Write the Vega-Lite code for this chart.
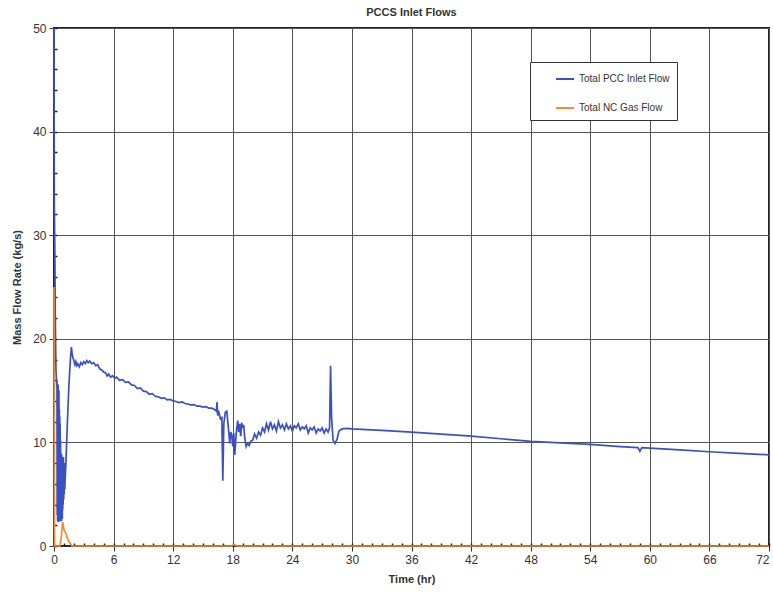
{
  "$schema": "https://vega.github.io/schema/vega-lite/v6.json",
  "width": 715,
  "height": 518,
  "autosize": "none",
  "padding": {"left": 54, "top": 28, "right": 4, "bottom": 47},
  "title": {"text": "PCCS Inlet Flows", "fontSize": 11, "fontWeight": "bold", "color": "#333333", "offset": 4, "anchor": "middle"},
  "config": {
    "font": "Liberation Sans",
    "view": {"stroke": "#222222", "strokeWidth": 2},
    "axis": {"labelFontSize": 12, "labelColor": "#333333", "titleFontSize": 11, "titleFontWeight": "bold", "titleColor": "#333333", "domainColor": "#333333", "tickColor": "#333333", "gridColor": "#555555", "gridWidth": 1, "gridOpacity": 1}
  },
  "data": {"values": [
    {"t":0,"v":50,"s":"Total PCC Inlet Flow"},{"t":0.03,"v":33,"s":"Total PCC Inlet Flow"},{"t":0.08,"v":29,"s":"Total PCC Inlet Flow"},{"t":0.13,"v":22,"s":"Total PCC Inlet Flow"},{"t":0.2,"v":17,"s":"Total PCC Inlet Flow"},{"t":0.27,"v":15.5,"s":"Total PCC Inlet Flow"},
    {"t":0.3,"v":16,"s":"Total PCC Inlet Flow"},{"t":0.32,"v":3,"s":"Total PCC Inlet Flow"},{"t":0.34,"v":15.2,"s":"Total PCC Inlet Flow"},{"t":0.36,"v":2.4,"s":"Total PCC Inlet Flow"},{"t":0.38,"v":14.8,"s":"Total PCC Inlet Flow"},{"t":0.4,"v":3.5,"s":"Total PCC Inlet Flow"},{"t":0.42,"v":15.6,"s":"Total PCC Inlet Flow"},{"t":0.44,"v":2.3,"s":"Total PCC Inlet Flow"},{"t":0.46,"v":14,"s":"Total PCC Inlet Flow"},{"t":0.48,"v":2.8,"s":"Total PCC Inlet Flow"},{"t":0.5,"v":15,"s":"Total PCC Inlet Flow"},{"t":0.52,"v":2.4,"s":"Total PCC Inlet Flow"},{"t":0.54,"v":13.2,"s":"Total PCC Inlet Flow"},{"t":0.56,"v":2.6,"s":"Total PCC Inlet Flow"},{"t":0.58,"v":12.5,"s":"Total PCC Inlet Flow"},{"t":0.6,"v":3,"s":"Total PCC Inlet Flow"},{"t":0.62,"v":11.8,"s":"Total PCC Inlet Flow"},{"t":0.64,"v":2.4,"s":"Total PCC Inlet Flow"},{"t":0.66,"v":10.2,"s":"Total PCC Inlet Flow"},{"t":0.68,"v":2.5,"s":"Total PCC Inlet Flow"},{"t":0.7,"v":9,"s":"Total PCC Inlet Flow"},{"t":0.72,"v":3.2,"s":"Total PCC Inlet Flow"},{"t":0.74,"v":8.6,"s":"Total PCC Inlet Flow"},{"t":0.76,"v":2.4,"s":"Total PCC Inlet Flow"},{"t":0.78,"v":8.8,"s":"Total PCC Inlet Flow"},{"t":0.8,"v":3,"s":"Total PCC Inlet Flow"},{"t":0.82,"v":8.2,"s":"Total PCC Inlet Flow"},{"t":0.84,"v":2.6,"s":"Total PCC Inlet Flow"},{"t":0.86,"v":8.5,"s":"Total PCC Inlet Flow"},{"t":0.88,"v":3.5,"s":"Total PCC Inlet Flow"},{"t":0.9,"v":7.8,"s":"Total PCC Inlet Flow"},{"t":0.92,"v":4,"s":"Total PCC Inlet Flow"},{"t":0.95,"v":8.6,"s":"Total PCC Inlet Flow"},{"t":0.98,"v":4.5,"s":"Total PCC Inlet Flow"},{"t":1.0,"v":7.5,"s":"Total PCC Inlet Flow"},{"t":1.03,"v":5,"s":"Total PCC Inlet Flow"},{"t":1.06,"v":8,"s":"Total PCC Inlet Flow"},{"t":1.09,"v":5.5,"s":"Total PCC Inlet Flow"},{"t":1.12,"v":6.5,"s":"Total PCC Inlet Flow"},
    {"t":1.2,"v":8,"s":"Total PCC Inlet Flow"},{"t":1.35,"v":12,"s":"Total PCC Inlet Flow"},{"t":1.5,"v":15.5,"s":"Total PCC Inlet Flow"},{"t":1.65,"v":18,"s":"Total PCC Inlet Flow"},{"t":1.75,"v":19.2,"s":"Total PCC Inlet Flow"},{"t":1.82,"v":18.6,"s":"Total PCC Inlet Flow"},{"t":1.9,"v":18.2,"s":"Total PCC Inlet Flow"},{"t":2.0,"v":17.9,"s":"Total PCC Inlet Flow"},{"t":2.1,"v":17.5,"s":"Total PCC Inlet Flow"},{"t":2.2,"v":17.8,"s":"Total PCC Inlet Flow"},{"t":2.3,"v":17.4,"s":"Total PCC Inlet Flow"},{"t":2.4,"v":17.6,"s":"Total PCC Inlet Flow"},{"t":2.55,"v":17.3,"s":"Total PCC Inlet Flow"},{"t":2.7,"v":17.7,"s":"Total PCC Inlet Flow"},{"t":2.85,"v":17.5,"s":"Total PCC Inlet Flow"},{"t":3.0,"v":17.8,"s":"Total PCC Inlet Flow"},{"t":3.15,"v":17.6,"s":"Total PCC Inlet Flow"},{"t":3.3,"v":17.9,"s":"Total PCC Inlet Flow"},{"t":3.45,"v":17.7,"s":"Total PCC Inlet Flow"},{"t":3.6,"v":17.85,"s":"Total PCC Inlet Flow"},{"t":3.8,"v":17.6,"s":"Total PCC Inlet Flow"},{"t":4.0,"v":17.7,"s":"Total PCC Inlet Flow"},{"t":4.2,"v":17.4,"s":"Total PCC Inlet Flow"},{"t":4.4,"v":17.5,"s":"Total PCC Inlet Flow"},{"t":4.6,"v":17.1,"s":"Total PCC Inlet Flow"},{"t":4.8,"v":17.0,"s":"Total PCC Inlet Flow"},{"t":5.0,"v":16.8,"s":"Total PCC Inlet Flow"},{"t":5.2,"v":16.7,"s":"Total PCC Inlet Flow"},{"t":5.35,"v":16.4,"s":"Total PCC Inlet Flow"},{"t":5.5,"v":16.6,"s":"Total PCC Inlet Flow"},{"t":5.7,"v":16.3,"s":"Total PCC Inlet Flow"},{"t":5.9,"v":16.45,"s":"Total PCC Inlet Flow"},{"t":6.1,"v":16.2,"s":"Total PCC Inlet Flow"},{"t":6.3,"v":16.3,"s":"Total PCC Inlet Flow"},{"t":6.6,"v":16.0,"s":"Total PCC Inlet Flow"},{"t":6.9,"v":16.05,"s":"Total PCC Inlet Flow"},{"t":7.2,"v":15.8,"s":"Total PCC Inlet Flow"},{"t":7.5,"v":15.85,"s":"Total PCC Inlet Flow"},{"t":7.8,"v":15.55,"s":"Total PCC Inlet Flow"},{"t":8.1,"v":15.5,"s":"Total PCC Inlet Flow"},{"t":8.4,"v":15.2,"s":"Total PCC Inlet Flow"},{"t":8.7,"v":15.25,"s":"Total PCC Inlet Flow"},{"t":9.0,"v":14.95,"s":"Total PCC Inlet Flow"},{"t":9.3,"v":14.9,"s":"Total PCC Inlet Flow"},{"t":9.6,"v":14.65,"s":"Total PCC Inlet Flow"},{"t":9.9,"v":14.7,"s":"Total PCC Inlet Flow"},{"t":10.2,"v":14.45,"s":"Total PCC Inlet Flow"},{"t":10.5,"v":14.4,"s":"Total PCC Inlet Flow"},{"t":10.8,"v":14.25,"s":"Total PCC Inlet Flow"},{"t":11.1,"v":14.3,"s":"Total PCC Inlet Flow"},{"t":11.4,"v":14.1,"s":"Total PCC Inlet Flow"},{"t":11.7,"v":14.15,"s":"Total PCC Inlet Flow"},{"t":12.0,"v":14.0,"s":"Total PCC Inlet Flow"},{"t":12.3,"v":13.95,"s":"Total PCC Inlet Flow"},{"t":12.6,"v":13.85,"s":"Total PCC Inlet Flow"},{"t":12.9,"v":13.9,"s":"Total PCC Inlet Flow"},{"t":13.2,"v":13.75,"s":"Total PCC Inlet Flow"},{"t":13.5,"v":13.7,"s":"Total PCC Inlet Flow"},{"t":13.8,"v":13.6,"s":"Total PCC Inlet Flow"},{"t":14.1,"v":13.65,"s":"Total PCC Inlet Flow"},{"t":14.4,"v":13.5,"s":"Total PCC Inlet Flow"},{"t":14.7,"v":13.5,"s":"Total PCC Inlet Flow"},{"t":15.0,"v":13.4,"s":"Total PCC Inlet Flow"},{"t":15.3,"v":13.45,"s":"Total PCC Inlet Flow"},{"t":15.6,"v":13.3,"s":"Total PCC Inlet Flow"},{"t":15.9,"v":13.3,"s":"Total PCC Inlet Flow"},{"t":16.2,"v":13.15,"s":"Total PCC Inlet Flow"},{"t":16.35,"v":13.0,"s":"Total PCC Inlet Flow"},{"t":16.42,"v":13.9,"s":"Total PCC Inlet Flow"},{"t":16.48,"v":12.6,"s":"Total PCC Inlet Flow"},{"t":16.6,"v":12.9,"s":"Total PCC Inlet Flow"},{"t":16.75,"v":12.3,"s":"Total PCC Inlet Flow"},{"t":16.9,"v":12.4,"s":"Total PCC Inlet Flow"},{"t":17.0,"v":6.3,"s":"Total PCC Inlet Flow"},{"t":17.1,"v":11.8,"s":"Total PCC Inlet Flow"},{"t":17.25,"v":12.9,"s":"Total PCC Inlet Flow"},{"t":17.4,"v":13.0,"s":"Total PCC Inlet Flow"},{"t":17.55,"v":11.5,"s":"Total PCC Inlet Flow"},{"t":17.7,"v":9.9,"s":"Total PCC Inlet Flow"},{"t":17.8,"v":11.0,"s":"Total PCC Inlet Flow"},{"t":17.9,"v":10.7,"s":"Total PCC Inlet Flow"},{"t":18.0,"v":9.6,"s":"Total PCC Inlet Flow"},{"t":18.1,"v":10.9,"s":"Total PCC Inlet Flow"},{"t":18.2,"v":8.8,"s":"Total PCC Inlet Flow"},{"t":18.35,"v":10.9,"s":"Total PCC Inlet Flow"},{"t":18.5,"v":12.1,"s":"Total PCC Inlet Flow"},{"t":18.6,"v":11.0,"s":"Total PCC Inlet Flow"},{"t":18.7,"v":11.8,"s":"Total PCC Inlet Flow"},{"t":18.8,"v":10.6,"s":"Total PCC Inlet Flow"},{"t":18.9,"v":11.9,"s":"Total PCC Inlet Flow"},{"t":19.0,"v":11.4,"s":"Total PCC Inlet Flow"},{"t":19.1,"v":11.7,"s":"Total PCC Inlet Flow"},{"t":19.2,"v":10.5,"s":"Total PCC Inlet Flow"},{"t":19.35,"v":9.6,"s":"Total PCC Inlet Flow"},{"t":19.5,"v":9.9,"s":"Total PCC Inlet Flow"},{"t":19.65,"v":9.7,"s":"Total PCC Inlet Flow"},{"t":19.8,"v":10.1,"s":"Total PCC Inlet Flow"},{"t":20.0,"v":10.2,"s":"Total PCC Inlet Flow"},{"t":20.2,"v":10.8,"s":"Total PCC Inlet Flow"},{"t":20.4,"v":10.4,"s":"Total PCC Inlet Flow"},{"t":20.6,"v":11.0,"s":"Total PCC Inlet Flow"},{"t":20.8,"v":10.7,"s":"Total PCC Inlet Flow"},{"t":21.0,"v":11.4,"s":"Total PCC Inlet Flow"},{"t":21.2,"v":11.0,"s":"Total PCC Inlet Flow"},{"t":21.4,"v":11.8,"s":"Total PCC Inlet Flow"},{"t":21.6,"v":11.2,"s":"Total PCC Inlet Flow"},{"t":21.8,"v":12.0,"s":"Total PCC Inlet Flow"},{"t":22.0,"v":11.3,"s":"Total PCC Inlet Flow"},{"t":22.2,"v":11.7,"s":"Total PCC Inlet Flow"},{"t":22.4,"v":11.1,"s":"Total PCC Inlet Flow"},{"t":22.6,"v":12.0,"s":"Total PCC Inlet Flow"},{"t":22.8,"v":11.4,"s":"Total PCC Inlet Flow"},{"t":23.0,"v":11.7,"s":"Total PCC Inlet Flow"},{"t":23.2,"v":11.2,"s":"Total PCC Inlet Flow"},{"t":23.4,"v":11.8,"s":"Total PCC Inlet Flow"},{"t":23.6,"v":11.3,"s":"Total PCC Inlet Flow"},{"t":23.8,"v":11.6,"s":"Total PCC Inlet Flow"},{"t":24.0,"v":11.1,"s":"Total PCC Inlet Flow"},{"t":24.2,"v":11.6,"s":"Total PCC Inlet Flow"},{"t":24.4,"v":11.4,"s":"Total PCC Inlet Flow"},{"t":24.6,"v":11.8,"s":"Total PCC Inlet Flow"},{"t":24.8,"v":11.2,"s":"Total PCC Inlet Flow"},{"t":25.0,"v":11.5,"s":"Total PCC Inlet Flow"},{"t":25.2,"v":11.3,"s":"Total PCC Inlet Flow"},{"t":25.4,"v":11.6,"s":"Total PCC Inlet Flow"},{"t":25.6,"v":10.9,"s":"Total PCC Inlet Flow"},{"t":25.8,"v":11.4,"s":"Total PCC Inlet Flow"},{"t":26.0,"v":11.2,"s":"Total PCC Inlet Flow"},{"t":26.2,"v":11.5,"s":"Total PCC Inlet Flow"},{"t":26.4,"v":10.9,"s":"Total PCC Inlet Flow"},{"t":26.6,"v":11.3,"s":"Total PCC Inlet Flow"},{"t":26.8,"v":11.1,"s":"Total PCC Inlet Flow"},{"t":27.0,"v":11.4,"s":"Total PCC Inlet Flow"},{"t":27.2,"v":10.9,"s":"Total PCC Inlet Flow"},{"t":27.4,"v":11.3,"s":"Total PCC Inlet Flow"},{"t":27.6,"v":11.0,"s":"Total PCC Inlet Flow"},{"t":27.75,"v":11.4,"s":"Total PCC Inlet Flow"},{"t":27.85,"v":17.4,"s":"Total PCC Inlet Flow"},{"t":27.95,"v":12.5,"s":"Total PCC Inlet Flow"},{"t":28.1,"v":10.2,"s":"Total PCC Inlet Flow"},{"t":28.3,"v":9.9,"s":"Total PCC Inlet Flow"},{"t":28.5,"v":10.3,"s":"Total PCC Inlet Flow"},{"t":28.7,"v":11.1,"s":"Total PCC Inlet Flow"},{"t":29.0,"v":11.3,"s":"Total PCC Inlet Flow"},{"t":29.5,"v":11.35,"s":"Total PCC Inlet Flow"},{"t":30,"v":11.3,"s":"Total PCC Inlet Flow"},{"t":33,"v":11.17,"s":"Total PCC Inlet Flow"},{"t":36,"v":11.0,"s":"Total PCC Inlet Flow"},{"t":39,"v":10.8,"s":"Total PCC Inlet Flow"},{"t":42,"v":10.6,"s":"Total PCC Inlet Flow"},{"t":45,"v":10.35,"s":"Total PCC Inlet Flow"},{"t":48,"v":10.1,"s":"Total PCC Inlet Flow"},{"t":51,"v":9.95,"s":"Total PCC Inlet Flow"},{"t":54,"v":9.8,"s":"Total PCC Inlet Flow"},{"t":57,"v":9.6,"s":"Total PCC Inlet Flow"},{"t":58.8,"v":9.5,"s":"Total PCC Inlet Flow"},{"t":59.0,"v":9.15,"s":"Total PCC Inlet Flow"},{"t":59.2,"v":9.5,"s":"Total PCC Inlet Flow"},{"t":60,"v":9.45,"s":"Total PCC Inlet Flow"},{"t":63,"v":9.27,"s":"Total PCC Inlet Flow"},{"t":66,"v":9.1,"s":"Total PCC Inlet Flow"},{"t":69,"v":8.95,"s":"Total PCC Inlet Flow"},{"t":72,"v":8.8,"s":"Total PCC Inlet Flow"},
    {"t":0,"v":25,"s":"Total NC Gas Flow"},{"t":0.05,"v":0,"s":"Total NC Gas Flow"},{"t":0.6,"v":0,"s":"Total NC Gas Flow"},{"t":0.75,"v":1.0,"s":"Total NC Gas Flow"},{"t":0.87,"v":2.3,"s":"Total NC Gas Flow"},{"t":1.0,"v":1.6,"s":"Total NC Gas Flow"},{"t":1.2,"v":1.2,"s":"Total NC Gas Flow"},{"t":1.4,"v":0.6,"s":"Total NC Gas Flow"},{"t":1.8,"v":0,"s":"Total NC Gas Flow"},{"t":17.9,"v":0,"s":"Total NC Gas Flow"},{"t":18.1,"v":0.15,"s":"Total NC Gas Flow"},{"t":18.5,"v":0,"s":"Total NC Gas Flow"},{"t":72,"v":0,"s":"Total NC Gas Flow"}
  ]},
  "layer": [
    {
      "mark": {"type": "line", "strokeWidth": 1.7},
      "encoding": {
        "x": {"field": "t", "type": "quantitative", "scale": {"domain": [0, 72], "nice": false},
              "axis": {"values": [0,6,12,18,24,30,36,42,48,54,60,66,72], "title": "Time (hr)", "grid": true, "tickSize": 5, "labelPadding": 3, "labelFlush": false, "labelAlign": {"expr": "datum.value == 72 ? 'right' : 'center'"}, "titlePadding": 8}},
        "y": {"field": "v", "type": "quantitative", "scale": {"domain": [0, 50], "nice": false},
              "axis": {"values": [0,10,20,30,40,50], "title": "Mass Flow Rate (kg/s)", "grid": true, "tickSize": 5, "labelPadding": 3, "titlePadding": 10}},
        "color": {"field": "s", "type": "nominal",
                  "scale": {"domain": ["Total PCC Inlet Flow", "Total NC Gas Flow"], "range": ["#3b50c4", "#f58a2e"]},
                  "legend": {"title": null, "orient": "none", "legendX": 476, "legendY": 34, "strokeColor": "#333333", "fillColor": "#ffffff", "padding": 7, "symbolOffset": 18, "symbolType": "stroke", "symbolSize": 324, "symbolStrokeWidth": 2, "labelFontSize": 10, "labelColor": "#333333", "rowPadding": 14, "labelOffset": 4}}
      }
    },
    {
      "mark": {"type": "line", "opacity": 0},
      "encoding": {
        "x": {"field": "t", "type": "quantitative",
              "axis": {"orient": "bottom", "values": [0,1,2,3,4,5,6,7,8,9,10,11,12,13,14,15,16,17,18,19,20,21,22,23,24,25,26,27,28,29,30,31,32,33,34,35,36,37,38,39,40,41,42,43,44,45,46,47,48,49,50,51,52,53,54,55,56,57,58,59,60,61,62,63,64,65,66,67,68,69,70,71,72], "labels": false, "domain": false, "grid": false, "title": null, "tickSize": 3, "offset": -3, "tickColor": "#222222", "tickWidth": 1.5}},
        "y": {"field": "v", "type": "quantitative",
              "axis": {"orient": "left", "values": [0,2,4,6,8,10,12,14,16,18,20,22,24,26,28,30,32,34,36,38,40,42,44,46,48,50], "labels": false, "domain": false, "grid": false, "title": null, "tickSize": 3, "offset": -3, "tickColor": "#222222", "tickWidth": 1.5}}
      }
    }
  ],
  "resolve": {"axis": {"x": "independent", "y": "independent"}}
}
